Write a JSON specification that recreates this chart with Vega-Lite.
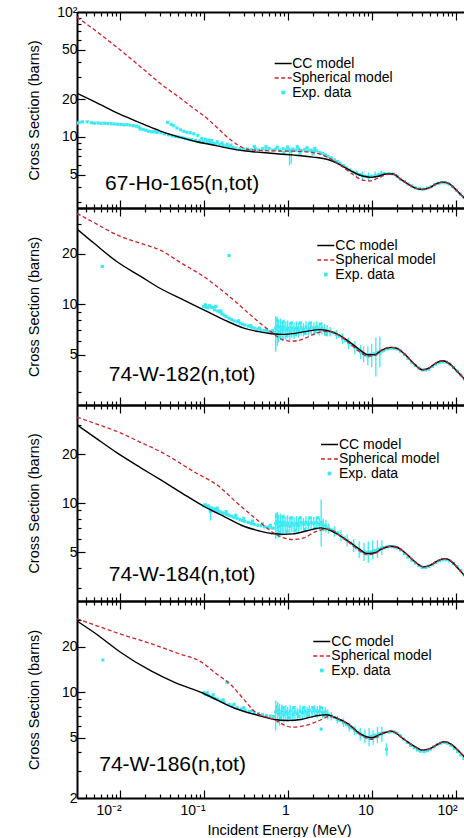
{
"$schema": "https://vega.github.io/schema/vega-lite/v6.json",
"padding": {"left": 26, "top": 5, "right": 0, "bottom": 0},
"background": "white",
"config": {
  "font": "Liberation Sans",
  "view": {"stroke": null},
  "axis": {"domainColor": "black", "domainWidth": 2, "tickColor": "black", "tickWidth": 1.2, "labelFont": "Liberation Sans", "labelFontSize": 14, "labelColor": "black", "titleFont": "Liberation Sans", "titleFontSize": 14.5, "titleFontWeight": "normal", "titleColor": "black", "grid": false, "labelOverlap": false, "labelFlush": false},
  "legend": {"labelFont": "Liberation Sans", "labelFontSize": 14, "labelColor": "black"}
},
"datasets": {
"labels": [{"p":1,"t":"67-Ho-165(n,tot)"},{"p":2,"t":"74-W-182(n,tot)"},{"p":3,"t":"74-W-184(n,tot)"},{"p":4,"t":"74-W-186(n,tot)"}],
"curves": [
{"p":1,"m":"CC","E":0.0031,"s":22.4},{"p":1,"m":"CC","E":0.005,"s":19.2},{"p":1,"m":"CC","E":0.01,"s":15.2},{"p":1,"m":"CC","E":0.02,"s":12.5},{"p":1,"m":"CC","E":0.03,"s":11.2},{"p":1,"m":"CC","E":0.05,"s":10.0},{"p":1,"m":"CC","E":0.08,"s":9.2},{"p":1,"m":"CC","E":0.12,"s":8.7},{"p":1,"m":"CC","E":0.2,"s":8.1},{"p":1,"m":"CC","E":0.3,"s":7.75},{"p":1,"m":"CC","E":0.5,"s":7.5},{"p":1,"m":"CC","E":0.8,"s":7.3},{"p":1,"m":"CC","E":1.2,"s":7.15},{"p":1,"m":"CC","E":2,"s":6.9},{"p":1,"m":"CC","E":3,"s":6.6},{"p":1,"m":"CC","E":4,"s":6.1},{"p":1,"m":"CC","E":5,"s":5.6},{"p":1,"m":"CC","E":6.5,"s":5.1},{"p":1,"m":"CC","E":8,"s":4.85},{"p":1,"m":"CC","E":10,"s":4.75},{"p":1,"m":"CC","E":12,"s":4.85},{"p":1,"m":"CC","E":15,"s":5.05},{"p":1,"m":"CC","E":18,"s":5.05},{"p":1,"m":"CC","E":22,"s":4.6},{"p":1,"m":"CC","E":27,"s":4.2},{"p":1,"m":"CC","E":33,"s":3.9},{"p":1,"m":"CC","E":40,"s":3.8},{"p":1,"m":"CC","E":50,"s":3.95},{"p":1,"m":"CC","E":60,"s":4.25},{"p":1,"m":"CC","E":72,"s":4.35},{"p":1,"m":"CC","E":85,"s":4.2},{"p":1,"m":"CC","E":100,"s":3.8},{"p":1,"m":"CC","E":115,"s":3.45},{"p":1,"m":"CC","E":130,"s":3.2},{"p":1,"m":"CC","E":160,"s":2.8},{"p":1,"m":"CC","E":200,"s":2.5},
{"p":1,"m":"SP","E":0.0031,"s":91},{"p":1,"m":"SP","E":0.005,"s":72},{"p":1,"m":"SP","E":0.01,"s":50},{"p":1,"m":"SP","E":0.02,"s":34},{"p":1,"m":"SP","E":0.03,"s":27},{"p":1,"m":"SP","E":0.055,"s":20},{"p":1,"m":"SP","E":0.08,"s":16.5},{"p":1,"m":"SP","E":0.1,"s":14.8},{"p":1,"m":"SP","E":0.15,"s":11.6},{"p":1,"m":"SP","E":0.2,"s":9.7},{"p":1,"m":"SP","E":0.25,"s":8.7},{"p":1,"m":"SP","E":0.3,"s":8.15},{"p":1,"m":"SP","E":0.4,"s":7.85},{"p":1,"m":"SP","E":0.6,"s":7.75},{"p":1,"m":"SP","E":1,"s":7.7},{"p":1,"m":"SP","E":1.5,"s":7.65},{"p":1,"m":"SP","E":2.4,"s":7.3},{"p":1,"m":"SP","E":3.2,"s":6.7},{"p":1,"m":"SP","E":4.6,"s":5.7},{"p":1,"m":"SP","E":6,"s":5.0},{"p":1,"m":"SP","E":7.5,"s":4.55},{"p":1,"m":"SP","E":9.5,"s":4.45},{"p":1,"m":"SP","E":12,"s":4.7},{"p":1,"m":"SP","E":15,"s":5.0},{"p":1,"m":"SP","E":18,"s":5.05},{"p":1,"m":"SP","E":22,"s":4.6},{"p":1,"m":"SP","E":27,"s":4.2},{"p":1,"m":"SP","E":33,"s":3.9},{"p":1,"m":"SP","E":40,"s":3.8},{"p":1,"m":"SP","E":50,"s":3.95},{"p":1,"m":"SP","E":60,"s":4.25},{"p":1,"m":"SP","E":72,"s":4.35},{"p":1,"m":"SP","E":85,"s":4.2},{"p":1,"m":"SP","E":100,"s":3.8},{"p":1,"m":"SP","E":115,"s":3.45},{"p":1,"m":"SP","E":130,"s":3.2},{"p":1,"m":"SP","E":160,"s":2.8},{"p":1,"m":"SP","E":200,"s":2.5},
{"p":2,"m":"CC","E":0.0031,"s":28.1},{"p":2,"m":"CC","E":0.005,"s":23.0},{"p":2,"m":"CC","E":0.0093,"s":17.9},{"p":2,"m":"CC","E":0.018,"s":14.6},{"p":2,"m":"CC","E":0.0305,"s":12.4},{"p":2,"m":"CC","E":0.055,"s":10.7},{"p":2,"m":"CC","E":0.1,"s":9.25},{"p":2,"m":"CC","E":0.18,"s":8.0},{"p":2,"m":"CC","E":0.3,"s":7.2},{"p":2,"m":"CC","E":0.45,"s":6.85},{"p":2,"m":"CC","E":0.64,"s":6.66},{"p":2,"m":"CC","E":0.9,"s":6.6},{"p":2,"m":"CC","E":1.18,"s":6.68},{"p":2,"m":"CC","E":1.6,"s":6.85},{"p":2,"m":"CC","E":2.4,"s":7.05},{"p":2,"m":"CC","E":3.3,"s":6.85},{"p":2,"m":"CC","E":4.2,"s":6.5},{"p":2,"m":"CC","E":5.2,"s":6.05},{"p":2,"m":"CC","E":7,"s":5.4},{"p":2,"m":"CC","E":9,"s":4.99},{"p":2,"m":"CC","E":11,"s":5.0},{"p":2,"m":"CC","E":13,"s":5.3},{"p":2,"m":"CC","E":17,"s":5.52},{"p":2,"m":"CC","E":20,"s":5.45},{"p":2,"m":"CC","E":25,"s":5.0},{"p":2,"m":"CC","E":32,"s":4.4},{"p":2,"m":"CC","E":40,"s":4.06},{"p":2,"m":"CC","E":48,"s":4.15},{"p":2,"m":"CC","E":58,"s":4.45},{"p":2,"m":"CC","E":70,"s":4.59},{"p":2,"m":"CC","E":85,"s":4.4},{"p":2,"m":"CC","E":105,"s":3.95},{"p":2,"m":"CC","E":126,"s":3.58},{"p":2,"m":"CC","E":160,"s":3.1},{"p":2,"m":"CC","E":200,"s":2.75},
{"p":2,"m":"SP","E":0.0031,"s":34.8},{"p":2,"m":"SP","E":0.005,"s":30.6},{"p":2,"m":"SP","E":0.0093,"s":25.9},{"p":2,"m":"SP","E":0.018,"s":23.0},{"p":2,"m":"SP","E":0.0305,"s":21.0},{"p":2,"m":"SP","E":0.055,"s":17.5},{"p":2,"m":"SP","E":0.1,"s":14.6},{"p":2,"m":"SP","E":0.19,"s":11.4},{"p":2,"m":"SP","E":0.36,"s":8.63},{"p":2,"m":"SP","E":0.5,"s":7.5},{"p":2,"m":"SP","E":0.64,"s":6.81},{"p":2,"m":"SP","E":0.87,"s":6.14},{"p":2,"m":"SP","E":1.05,"s":6.02},{"p":2,"m":"SP","E":1.3,"s":6.05},{"p":2,"m":"SP","E":1.6,"s":6.25},{"p":2,"m":"SP","E":2.07,"s":6.63},{"p":2,"m":"SP","E":2.6,"s":6.85},{"p":2,"m":"SP","E":3.1,"s":6.85},{"p":2,"m":"SP","E":4.2,"s":6.45},{"p":2,"m":"SP","E":5.2,"s":5.95},{"p":2,"m":"SP","E":7,"s":5.25},{"p":2,"m":"SP","E":9,"s":4.9},{"p":2,"m":"SP","E":11,"s":4.95},{"p":2,"m":"SP","E":13,"s":5.3},{"p":2,"m":"SP","E":17,"s":5.52},{"p":2,"m":"SP","E":20,"s":5.45},{"p":2,"m":"SP","E":25,"s":5.0},{"p":2,"m":"SP","E":32,"s":4.4},{"p":2,"m":"SP","E":40,"s":4.06},{"p":2,"m":"SP","E":48,"s":4.15},{"p":2,"m":"SP","E":58,"s":4.45},{"p":2,"m":"SP","E":70,"s":4.59},{"p":2,"m":"SP","E":85,"s":4.4},{"p":2,"m":"SP","E":105,"s":3.95},{"p":2,"m":"SP","E":126,"s":3.58},{"p":2,"m":"SP","E":160,"s":3.1},{"p":2,"m":"SP","E":200,"s":2.75},
{"p":3,"m":"CC","E":0.0031,"s":30.2},{"p":3,"m":"CC","E":0.005,"s":25.4},{"p":3,"m":"CC","E":0.0093,"s":20.3},{"p":3,"m":"CC","E":0.018,"s":16.4},{"p":3,"m":"CC","E":0.0305,"s":13.9},{"p":3,"m":"CC","E":0.055,"s":11.5},{"p":3,"m":"CC","E":0.1,"s":9.55},{"p":3,"m":"CC","E":0.18,"s":8.2},{"p":3,"m":"CC","E":0.3,"s":7.2},{"p":3,"m":"CC","E":0.45,"s":6.75},{"p":3,"m":"CC","E":0.64,"s":6.49},{"p":3,"m":"CC","E":0.9,"s":6.42},{"p":3,"m":"CC","E":1.15,"s":6.46},{"p":3,"m":"CC","E":1.7,"s":6.75},{"p":3,"m":"CC","E":2.45,"s":7.03},{"p":3,"m":"CC","E":3.2,"s":6.79},{"p":3,"m":"CC","E":4.3,"s":6.25},{"p":3,"m":"CC","E":5.6,"s":5.69},{"p":3,"m":"CC","E":7,"s":5.25},{"p":3,"m":"CC","E":8.8,"s":4.89},{"p":3,"m":"CC","E":11,"s":4.95},{"p":3,"m":"CC","E":13,"s":5.2},{"p":3,"m":"CC","E":16.7,"s":5.42},{"p":3,"m":"CC","E":20,"s":5.35},{"p":3,"m":"CC","E":25,"s":4.95},{"p":3,"m":"CC","E":32,"s":4.4},{"p":3,"m":"CC","E":41.6,"s":4.05},{"p":3,"m":"CC","E":50,"s":4.15},{"p":3,"m":"CC","E":60,"s":4.4},{"p":3,"m":"CC","E":75,"s":4.55},{"p":3,"m":"CC","E":90,"s":4.35},{"p":3,"m":"CC","E":105,"s":4.0},{"p":3,"m":"CC","E":124,"s":3.63},{"p":3,"m":"CC","E":160,"s":3.15},{"p":3,"m":"CC","E":200,"s":2.8},
{"p":3,"m":"SP","E":0.0031,"s":33.7},{"p":3,"m":"SP","E":0.005,"s":30.9},{"p":3,"m":"SP","E":0.0093,"s":27.5},{"p":3,"m":"SP","E":0.018,"s":23.5},{"p":3,"m":"SP","E":0.0305,"s":20.7},{"p":3,"m":"SP","E":0.076,"s":15.6},{"p":3,"m":"SP","E":0.15,"s":12.7},{"p":3,"m":"SP","E":0.25,"s":10.0},{"p":3,"m":"SP","E":0.43,"s":7.9},{"p":3,"m":"SP","E":0.68,"s":6.55},{"p":3,"m":"SP","E":0.9,"s":6.1},{"p":3,"m":"SP","E":1.15,"s":5.96},{"p":3,"m":"SP","E":1.55,"s":6.1},{"p":3,"m":"SP","E":2.2,"s":6.7},{"p":3,"m":"SP","E":3.0,"s":6.92},{"p":3,"m":"SP","E":3.5,"s":6.75},{"p":3,"m":"SP","E":4.3,"s":6.2},{"p":3,"m":"SP","E":5.6,"s":5.62},{"p":3,"m":"SP","E":7,"s":5.15},{"p":3,"m":"SP","E":8.8,"s":4.8},{"p":3,"m":"SP","E":11,"s":4.9},{"p":3,"m":"SP","E":13,"s":5.2},{"p":3,"m":"SP","E":16.7,"s":5.42},{"p":3,"m":"SP","E":20,"s":5.35},{"p":3,"m":"SP","E":25,"s":4.95},{"p":3,"m":"SP","E":32,"s":4.4},{"p":3,"m":"SP","E":41.6,"s":4.05},{"p":3,"m":"SP","E":50,"s":4.15},{"p":3,"m":"SP","E":60,"s":4.4},{"p":3,"m":"SP","E":75,"s":4.55},{"p":3,"m":"SP","E":90,"s":4.35},{"p":3,"m":"SP","E":105,"s":4.0},{"p":3,"m":"SP","E":124,"s":3.63},{"p":3,"m":"SP","E":160,"s":3.15},{"p":3,"m":"SP","E":200,"s":2.8},
{"p":4,"m":"CC","E":0.0031,"s":29.5},{"p":4,"m":"CC","E":0.0052,"s":24.3},{"p":4,"m":"CC","E":0.01,"s":18.5},{"p":4,"m":"CC","E":0.0236,"s":13.8},{"p":4,"m":"CC","E":0.045,"s":11.6},{"p":4,"m":"CC","E":0.1,"s":9.8},{"p":4,"m":"CC","E":0.23,"s":7.86},{"p":4,"m":"CC","E":0.48,"s":6.94},{"p":4,"m":"CC","E":0.69,"s":6.6},{"p":4,"m":"CC","E":1.0,"s":6.5},{"p":4,"m":"CC","E":1.44,"s":6.6},{"p":4,"m":"CC","E":2.0,"s":6.9},{"p":4,"m":"CC","E":2.86,"s":7.1},{"p":4,"m":"CC","E":3.8,"s":6.75},{"p":4,"m":"CC","E":5.2,"s":6.2},{"p":4,"m":"CC","E":7.5,"s":5.26},{"p":4,"m":"CC","E":10,"s":5.0},{"p":4,"m":"CC","E":13,"s":5.3},{"p":4,"m":"CC","E":17,"s":5.53},{"p":4,"m":"CC","E":24.4,"s":4.87},{"p":4,"m":"CC","E":32,"s":4.4},{"p":4,"m":"CC","E":40.4,"s":4.14},{"p":4,"m":"CC","E":50,"s":4.25},{"p":4,"m":"CC","E":60,"s":4.5},{"p":4,"m":"CC","E":73,"s":4.71},{"p":4,"m":"CC","E":90,"s":4.5},{"p":4,"m":"CC","E":108,"s":4.1},{"p":4,"m":"CC","E":129,"s":3.7},{"p":4,"m":"CC","E":160,"s":3.25},{"p":4,"m":"CC","E":200,"s":2.9},
{"p":4,"m":"SP","E":0.0031,"s":30.5},{"p":4,"m":"SP","E":0.005,"s":27.8},{"p":4,"m":"SP","E":0.01,"s":24.3},{"p":4,"m":"SP","E":0.0236,"s":20.9},{"p":4,"m":"SP","E":0.05,"s":18.0},{"p":4,"m":"SP","E":0.092,"s":15.9},{"p":4,"m":"SP","E":0.14,"s":13.3},{"p":4,"m":"SP","E":0.21,"s":11.2},{"p":4,"m":"SP","E":0.3,"s":8.97},{"p":4,"m":"SP","E":0.4,"s":7.48},{"p":4,"m":"SP","E":0.69,"s":6.6},{"p":4,"m":"SP","E":1.1,"s":5.88},{"p":4,"m":"SP","E":1.6,"s":6.0},{"p":4,"m":"SP","E":2.27,"s":6.43},{"p":4,"m":"SP","E":3.3,"s":6.93},{"p":4,"m":"SP","E":3.8,"s":6.75},{"p":4,"m":"SP","E":5.2,"s":6.15},{"p":4,"m":"SP","E":7.5,"s":5.2},{"p":4,"m":"SP","E":10,"s":4.88},{"p":4,"m":"SP","E":13,"s":5.3},{"p":4,"m":"SP","E":17,"s":5.53},{"p":4,"m":"SP","E":24.4,"s":4.87},{"p":4,"m":"SP","E":32,"s":4.4},{"p":4,"m":"SP","E":40.4,"s":4.14},{"p":4,"m":"SP","E":50,"s":4.25},{"p":4,"m":"SP","E":60,"s":4.5},{"p":4,"m":"SP","E":73,"s":4.71},{"p":4,"m":"SP","E":90,"s":4.5},{"p":4,"m":"SP","E":108,"s":4.1},{"p":4,"m":"SP","E":129,"s":3.7},{"p":4,"m":"SP","E":160,"s":3.25},{"p":4,"m":"SP","E":200,"s":2.9}
],
"exp": [
{"p":1,"E":0.0031,"s":12.9},{"p":1,"E":0.0033,"s":13.1},{"p":1,"E":0.0036,"s":13.2},{"p":1,"E":0.0041,"s":13.2},{"p":1,"E":0.0046,"s":13.0},{"p":1,"E":0.005,"s":12.9},{"p":1,"E":0.0055,"s":12.95},{"p":1,"E":0.006,"s":12.85},{"p":1,"E":0.0066,"s":12.9},{"p":1,"E":0.0072,"s":12.8},{"p":1,"E":0.0079,"s":12.75},
{"p":1,"E":0.0086,"s":12.7},{"p":1,"E":0.0094,"s":12.65},{"p":1,"E":0.0103,"s":12.6},{"p":1,"E":0.0112,"s":12.5},{"p":1,"E":0.0122,"s":12.55},{"p":1,"E":0.0133,"s":12.45},{"p":1,"E":0.0145,"s":12.3},{"p":1,"E":0.0158,"s":12.2},{"p":1,"E":0.017,"s":12.0},
{"p":1,"E":0.0175,"s":11.6},{"p":1,"E":0.019,"s":11.5},{"p":1,"E":0.0205,"s":11.3},{"p":1,"E":0.022,"s":11.1},{"p":1,"E":0.024,"s":11.0},{"p":1,"E":0.026,"s":11.0},{"p":1,"E":0.028,"s":10.9},
{"p":1,"E":0.037,"s":13.1},{"p":1,"E":0.041,"s":12.6},{"p":1,"E":0.044,"s":12.3},{"p":1,"E":0.048,"s":11.8},{"p":1,"E":0.053,"s":11.4},{"p":1,"E":0.058,"s":11.1},{"p":1,"E":0.063,"s":10.9},{"p":1,"E":0.069,"s":10.8},{"p":1,"E":0.076,"s":10.6},{"p":1,"E":0.085,"s":10.3},
{"p":1,"E":0.031,"s":10.8},{"p":1,"E":0.034,"s":10.6},{"p":1,"E":0.038,"s":10.4},{"p":1,"E":0.042,"s":10.2},{"p":1,"E":0.046,"s":10.1},{"p":1,"E":0.05,"s":10.0},{"p":1,"E":0.055,"s":9.9},{"p":1,"E":0.06,"s":9.75},{"p":1,"E":0.066,"s":9.6},{"p":1,"E":0.072,"s":9.5},{"p":1,"E":0.08,"s":9.4},{"p":1,"E":0.09,"s":9.3},{"p":1,"E":0.1,"s":9.2},{"p":1,"E":0.11,"s":9.1},{"p":1,"E":0.12,"s":9.05},{"p":1,"E":0.13,"s":8.9},{"p":1,"E":0.14,"s":8.85},{"p":1,"E":0.155,"s":8.7},{"p":1,"E":0.17,"s":8.6},{"p":1,"E":0.185,"s":8.45},{"p":1,"E":0.2,"s":8.35},{"p":1,"E":0.22,"s":8.25},{"p":1,"E":0.24,"s":8.15},{"p":1,"E":0.27,"s":8.05},{"p":1,"E":0.3,"s":7.95},
{"p":1,"E":0.095,"s":9.7},{"p":1,"E":0.105,"s":9.6},{"p":1,"E":0.115,"s":9.45},{"p":1,"E":0.125,"s":9.35},{"p":1,"E":0.145,"s":9.15},{"p":1,"E":0.165,"s":8.95},{"p":1,"E":0.19,"s":8.75},{"p":1,"E":0.21,"s":8.6},
{"p":1,"E":0.33,"s":8.0},{"p":1,"E":0.37,"s":7.9},{"p":1,"E":0.41,"s":8.1},{"p":1,"E":0.45,"s":7.85},{"p":1,"E":0.5,"s":8.05},{"p":1,"E":0.55,"s":7.9},{"p":1,"E":0.6,"s":8.1},{"p":1,"E":0.66,"s":7.85},{"p":1,"E":0.72,"s":8.0},{"p":1,"E":0.8,"s":7.85},{"p":1,"E":0.88,"s":8.05},{"p":1,"E":0.96,"s":7.9},{"p":1,"E":1.05,"s":7.8,"lo":5.9,"hi":8.2},{"p":1,"E":1.1,"s":7.7,"lo":6.1,"hi":8.1},{"p":1,"E":1.15,"s":8.0},{"p":1,"E":1.25,"s":7.85},{"p":1,"E":1.35,"s":8.0},{"p":1,"E":1.45,"s":7.8},{"p":1,"E":1.6,"s":7.95},{"p":1,"E":1.75,"s":7.75},{"p":1,"E":1.9,"s":7.85},{"p":1,"E":2.05,"s":7.65},{"p":1,"E":2.2,"s":7.75},{"p":1,"E":2.4,"s":7.5},{"p":1,"E":2.6,"s":7.4},{"p":1,"E":2.8,"s":7.2},{"p":1,"E":3.0,"s":7.0},
{"p":1,"E":0.4,"s":8.4},{"p":1,"E":0.55,"s":8.35},{"p":1,"E":0.75,"s":8.3},{"p":1,"E":1.0,"s":8.3},{"p":1,"E":1.3,"s":8.35},{"p":1,"E":1.7,"s":8.2},{"p":1,"E":2.1,"s":8.1},{"p":1,"E":0.9,"s":7.5},{"p":1,"E":1.4,"s":7.4},{"p":1,"E":2.0,"s":7.3},
{"p":1,"E":3.3,"s":6.8},{"p":1,"E":3.6,"s":6.55},{"p":1,"E":3.9,"s":6.35},{"p":1,"E":4.2,"s":6.15},{"p":1,"E":4.6,"s":5.9},{"p":1,"E":5.0,"s":5.65},{"p":1,"E":5.5,"s":5.45},{"p":1,"E":6.0,"s":5.25},{"p":1,"E":6.6,"s":5.1,"lo":4.8,"hi":5.4},{"p":1,"E":7.2,"s":5.0},{"p":1,"E":7.8,"s":4.9,"lo":4.5,"hi":5.3},{"p":1,"E":8.5,"s":4.85},{"p":1,"E":9.2,"s":4.8,"lo":4.4,"hi":5.2},{"p":1,"E":10,"s":4.85},{"p":1,"E":11,"s":4.9,"lo":4.5,"hi":5.3},{"p":1,"E":12,"s":5.0},{"p":1,"E":13,"s":5.05,"lo":4.7,"hi":5.4},{"p":1,"E":14,"s":5.1},
{"p":1,"E":16,"s":5.1},{"p":1,"E":18,"s":5.05},{"p":1,"E":20,"s":4.85},{"p":1,"E":22,"s":4.6},{"p":1,"E":24.5,"s":4.4},{"p":1,"E":27,"s":4.2},{"p":1,"E":30,"s":4.05},{"p":1,"E":33,"s":3.92},{"p":1,"E":37,"s":3.85},{"p":1,"E":41,"s":3.82},{"p":1,"E":46,"s":3.9},{"p":1,"E":51,"s":4.0},{"p":1,"E":56,"s":4.15},{"p":1,"E":62,"s":4.25},{"p":1,"E":68,"s":4.3},{"p":1,"E":75,"s":4.3},{"p":1,"E":83,"s":4.2},{"p":1,"E":92,"s":4.0},{"p":1,"E":102,"s":3.75},{"p":1,"E":113,"s":3.5},{"p":1,"E":125,"s":3.3},{"p":1,"E":140,"s":3.05},{"p":1,"E":155,"s":2.85},

{"p":2,"E":0.0062,"s":16.8},{"p":2,"E":0.2,"s":19.5},
{"p":2,"E":0.1,"s":9.7},{"p":2,"E":0.105,"s":9.9},{"p":2,"E":0.107,"s":9.6},{"p":2,"E":0.112,"s":9.5},{"p":2,"E":0.118,"s":9.8},{"p":2,"E":0.124,"s":9.55},{"p":2,"E":0.13,"s":9.6},{"p":2,"E":0.135,"s":9.25},{"p":2,"E":0.14,"s":9.7},{"p":2,"E":0.147,"s":9.1},{"p":2,"E":0.155,"s":9.0},{"p":2,"E":0.16,"s":9.1},{"p":2,"E":0.165,"s":8.75},{"p":2,"E":0.175,"s":8.6},{"p":2,"E":0.185,"s":8.45},{"p":2,"E":0.2,"s":8.25},{"p":2,"E":0.215,"s":8.1},{"p":2,"E":0.23,"s":7.95},{"p":2,"E":0.25,"s":7.85},{"p":2,"E":0.27,"s":7.7},{"p":2,"E":0.29,"s":7.6},{"p":2,"E":0.31,"s":7.5},{"p":2,"E":0.34,"s":7.4},{"p":2,"E":0.37,"s":7.3},{"p":2,"E":0.4,"s":7.2},{"p":2,"E":0.44,"s":7.1},{"p":2,"E":0.48,"s":7.0},{"p":2,"E":0.53,"s":6.95},{"p":2,"E":0.58,"s":6.88},{"p":2,"E":0.63,"s":6.82},{"p":2,"E":0.68,"s":6.78},
{"p":2,"E":0.26,"s":7.95},{"p":2,"E":0.36,"s":7.45},{"p":2,"E":0.46,"s":7.2},{"p":2,"E":0.56,"s":7.05},{"p":2,"E":0.66,"s":6.95},
{"p":2,"E":0.72,"s":7.2,"lo":5.2,"hi":8.5},{"p":2,"E":0.75,"s":7.4,"lo":5.6,"hi":8.4},{"p":2,"E":0.78,"s":6.9,"lo":5.9,"hi":8.1},{"p":2,"E":0.82,"s":7.3,"lo":6.1,"hi":8.2},{"p":2,"E":0.86,"s":7.0,"lo":6.0,"hi":8.0},{"p":2,"E":0.9,"s":7.3,"lo":6.2,"hi":8.1},{"p":2,"E":0.95,"s":7.0,"lo":6.1,"hi":7.9},{"p":2,"E":1.0,"s":7.2,"lo":6.3,"hi":8.0},{"p":2,"E":1.06,"s":6.9,"lo":6.1,"hi":7.8},{"p":2,"E":1.12,"s":7.2,"lo":6.3,"hi":7.9},{"p":2,"E":1.19,"s":7.0,"lo":6.2,"hi":7.8},{"p":2,"E":1.27,"s":7.2,"lo":6.4,"hi":7.9},{"p":2,"E":1.35,"s":7.0,"lo":6.3,"hi":7.7},{"p":2,"E":1.44,"s":7.25,"lo":6.5,"hi":7.9},{"p":2,"E":1.54,"s":7.05,"lo":6.4,"hi":7.7},{"p":2,"E":1.65,"s":7.3,"lo":6.6,"hi":7.9},{"p":2,"E":1.77,"s":7.1,"lo":6.5,"hi":7.7},{"p":2,"E":1.9,"s":7.3,"lo":6.6,"hi":7.9},{"p":2,"E":2.05,"s":7.15,"lo":6.5,"hi":7.8},{"p":2,"E":2.2,"s":7.3,"lo":6.7,"hi":7.9},{"p":2,"E":2.37,"s":7.1,"lo":6.5,"hi":7.7},{"p":2,"E":2.55,"s":7.2,"lo":6.6,"hi":7.8},{"p":2,"E":2.75,"s":7.0,"lo":6.5,"hi":7.6},{"p":2,"E":2.95,"s":6.95,"lo":6.4,"hi":7.5},
{"p":2,"E":0.74,"s":8.0},{"p":2,"E":0.8,"s":6.4},{"p":2,"E":0.88,"s":7.8},{"p":2,"E":0.98,"s":6.5},{"p":2,"E":1.1,"s":7.7},{"p":2,"E":1.23,"s":6.6},{"p":2,"E":1.4,"s":7.7},{"p":2,"E":1.6,"s":6.7},{"p":2,"E":1.83,"s":7.7},{"p":2,"E":2.12,"s":6.8},{"p":2,"E":2.45,"s":7.6},{"p":2,"E":2.85,"s":6.6},
{"p":2,"E":3.2,"s":6.85,"lo":6.4,"hi":7.3},{"p":2,"E":3.5,"s":6.75},{"p":2,"E":3.8,"s":6.6,"lo":6.2,"hi":7.0},{"p":2,"E":4.1,"s":6.45},{"p":2,"E":4.5,"s":6.25,"lo":5.8,"hi":6.7},{"p":2,"E":4.9,"s":6.05},{"p":2,"E":5.3,"s":5.9,"lo":5.4,"hi":6.3},{"p":2,"E":5.8,"s":5.7},{"p":2,"E":6.3,"s":5.55,"lo":5.0,"hi":6.0},{"p":2,"E":6.8,"s":5.35},{"p":2,"E":7.4,"s":5.2,"lo":4.7,"hi":5.7},
{"p":2,"E":8,"s":5.05,"lo":4.5,"hi":5.6},{"p":2,"E":8.5,"s":4.95},{"p":2,"E":9,"s":4.9,"lo":4.3,"hi":5.6},{"p":2,"E":9.5,"s":5.0},{"p":2,"E":10,"s":4.95,"lo":4.2,"hi":5.8},{"p":2,"E":10.6,"s":5.05},{"p":2,"E":11.2,"s":5.0,"lo":3.7,"hi":6.3},{"p":2,"E":11.8,"s":5.15},{"p":2,"E":12.5,"s":5.1,"lo":4.2,"hi":6.4},{"p":2,"E":13.2,"s":5.25},
{"p":2,"E":14,"s":5.3},{"p":2,"E":15.5,"s":5.4},{"p":2,"E":17,"s":5.45},{"p":2,"E":18.5,"s":5.45},{"p":2,"E":20,"s":5.4},{"p":2,"E":22,"s":5.25},{"p":2,"E":24.5,"s":5.0},{"p":2,"E":27,"s":4.75},{"p":2,"E":30,"s":4.5},{"p":2,"E":33,"s":4.3},{"p":2,"E":36.5,"s":4.15},{"p":2,"E":40,"s":4.05},{"p":2,"E":44,"s":4.05},{"p":2,"E":48,"s":4.1},{"p":2,"E":53,"s":4.25},{"p":2,"E":58,"s":4.38},{"p":2,"E":64,"s":4.48},{"p":2,"E":70,"s":4.52},{"p":2,"E":77,"s":4.5},{"p":2,"E":85,"s":4.38},{"p":2,"E":94,"s":4.18},{"p":2,"E":104,"s":3.98},{"p":2,"E":115,"s":3.78},{"p":2,"E":127,"s":3.55},{"p":2,"E":140,"s":3.35},{"p":2,"E":155,"s":3.15},

{"p":3,"E":0.1,"s":9.6},{"p":3,"E":0.104,"s":9.75},{"p":3,"E":0.108,"s":9.5},{"p":3,"E":0.113,"s":9.6},{"p":3,"E":0.118,"s":9.35},{"p":3,"E":0.12,"s":8.9,"lo":7.8,"hi":9.5},{"p":3,"E":0.124,"s":9.3},{"p":3,"E":0.13,"s":9.15},{"p":3,"E":0.136,"s":9.2},{"p":3,"E":0.142,"s":9.0},{"p":3,"E":0.15,"s":8.9},{"p":3,"E":0.158,"s":8.8},{"p":3,"E":0.167,"s":8.7},{"p":3,"E":0.177,"s":8.6},{"p":3,"E":0.19,"s":8.5},{"p":3,"E":0.2,"s":8.4},{"p":3,"E":0.215,"s":8.3},{"p":3,"E":0.23,"s":8.15},{"p":3,"E":0.25,"s":8.05},{"p":3,"E":0.27,"s":7.9},{"p":3,"E":0.29,"s":7.8},{"p":3,"E":0.31,"s":7.7},{"p":3,"E":0.34,"s":7.6},{"p":3,"E":0.37,"s":7.5},{"p":3,"E":0.4,"s":7.4},{"p":3,"E":0.44,"s":7.3},{"p":3,"E":0.48,"s":7.25},{"p":3,"E":0.53,"s":7.15},{"p":3,"E":0.58,"s":7.1},{"p":3,"E":0.63,"s":7.05},{"p":3,"E":0.68,"s":7.0},
{"p":3,"E":0.145,"s":9.3},{"p":3,"E":0.185,"s":8.85},{"p":3,"E":0.24,"s":8.4},{"p":3,"E":0.3,"s":8.05},{"p":3,"E":0.38,"s":7.75},{"p":3,"E":0.5,"s":7.45},{"p":3,"E":0.62,"s":7.3},
{"p":3,"E":0.72,"s":7.5,"lo":6.0,"hi":8.7},{"p":3,"E":0.75,"s":7.7,"lo":6.2,"hi":8.8},{"p":3,"E":0.78,"s":7.2,"lo":6.1,"hi":8.5},{"p":3,"E":0.82,"s":7.6,"lo":6.3,"hi":8.6},{"p":3,"E":0.86,"s":7.3,"lo":6.3,"hi":8.4},{"p":3,"E":0.9,"s":7.6,"lo":6.4,"hi":8.5},{"p":3,"E":0.95,"s":7.3,"lo":6.4,"hi":8.3},{"p":3,"E":1.0,"s":7.5,"lo":6.5,"hi":8.4},{"p":3,"E":1.06,"s":7.2,"lo":6.4,"hi":8.2},{"p":3,"E":1.12,"s":7.5,"lo":6.6,"hi":8.3},{"p":3,"E":1.19,"s":7.3,"lo":6.5,"hi":8.2},{"p":3,"E":1.27,"s":7.5,"lo":6.7,"hi":8.3},{"p":3,"E":1.35,"s":7.3,"lo":6.6,"hi":8.1},{"p":3,"E":1.44,"s":7.6,"lo":6.8,"hi":8.3},{"p":3,"E":1.54,"s":7.4,"lo":6.7,"hi":8.1},{"p":3,"E":1.65,"s":7.6,"lo":6.9,"hi":8.3},{"p":3,"E":1.77,"s":7.4,"lo":6.8,"hi":8.1},{"p":3,"E":1.9,"s":7.6,"lo":6.9,"hi":8.3},{"p":3,"E":2.05,"s":7.45,"lo":6.8,"hi":8.2},{"p":3,"E":2.2,"s":7.6,"lo":6.9,"hi":8.3},{"p":3,"E":2.37,"s":7.4,"lo":6.8,"hi":8.1},{"p":3,"E":2.5,"s":7.6,"lo":5.4,"hi":10.5},{"p":3,"E":2.65,"s":7.3,"lo":6.7,"hi":8.0},{"p":3,"E":2.85,"s":7.2,"lo":6.6,"hi":7.9},
{"p":3,"E":0.74,"s":8.3},{"p":3,"E":0.8,"s":6.6},{"p":3,"E":0.88,"s":8.2},{"p":3,"E":0.98,"s":6.7},{"p":3,"E":1.1,"s":8.1},{"p":3,"E":1.23,"s":6.8},{"p":3,"E":1.4,"s":8.1},{"p":3,"E":1.6,"s":6.9},{"p":3,"E":1.83,"s":8.1},{"p":3,"E":2.12,"s":7.0},{"p":3,"E":2.3,"s":8.1},{"p":3,"E":2.75,"s":6.9},
{"p":3,"E":3.05,"s":7.0,"lo":6.5,"hi":7.5},{"p":3,"E":3.3,"s":6.85},{"p":3,"E":3.6,"s":6.7,"lo":6.2,"hi":7.2},{"p":3,"E":3.9,"s":6.55},{"p":3,"E":4.3,"s":6.3,"lo":5.8,"hi":6.8},{"p":3,"E":4.7,"s":6.1},{"p":3,"E":5.1,"s":5.9,"lo":5.4,"hi":6.4},{"p":3,"E":5.6,"s":5.7},{"p":3,"E":6.1,"s":5.5,"lo":5.0,"hi":6.0},{"p":3,"E":6.6,"s":5.3},
{"p":3,"E":7.1,"s":5.15,"lo":4.6,"hi":5.8},{"p":3,"E":7.6,"s":5.05},{"p":3,"E":8.1,"s":5.0,"lo":4.4,"hi":5.7},{"p":3,"E":8.6,"s":4.95},{"p":3,"E":9.1,"s":4.95,"lo":4.3,"hi":5.8},{"p":3,"E":9.7,"s":5.0},{"p":3,"E":10.3,"s":5.05,"lo":4.5,"hi":5.9},{"p":3,"E":11,"s":5.1},{"p":3,"E":11.7,"s":5.15,"lo":4.6,"hi":5.9},{"p":3,"E":12.4,"s":5.2},{"p":3,"E":13.2,"s":5.3,"lo":4.8,"hi":5.9},
{"p":3,"E":14,"s":5.3},{"p":3,"E":15.5,"s":5.38},{"p":3,"E":17,"s":5.4},{"p":3,"E":18.5,"s":5.38},{"p":3,"E":20,"s":5.3},{"p":3,"E":22,"s":5.15},{"p":3,"E":24.5,"s":4.9},{"p":3,"E":27,"s":4.65},{"p":3,"E":30,"s":4.45},{"p":3,"E":33,"s":4.28},{"p":3,"E":36.5,"s":4.12},{"p":3,"E":40,"s":4.02},{"p":3,"E":44,"s":4.02},{"p":3,"E":48,"s":4.08},{"p":3,"E":53,"s":4.18},{"p":3,"E":58,"s":4.3},{"p":3,"E":64,"s":4.42},{"p":3,"E":70,"s":4.48},{"p":3,"E":77,"s":4.48},{"p":3,"E":85,"s":4.4},{"p":3,"E":94,"s":4.25},{"p":3,"E":104,"s":4.05},{"p":3,"E":115,"s":3.85},{"p":3,"E":127,"s":3.62},{"p":3,"E":140,"s":3.42},{"p":3,"E":155,"s":3.22},

{"p":4,"E":0.0063,"s":16.3},{"p":4,"E":0.19,"s":11.6},{"p":4,"E":2.5,"s":5.7},{"p":4,"E":15,"s":4.2,"lo":3.8,"hi":4.6},
{"p":4,"E":0.1,"s":9.9},{"p":4,"E":0.104,"s":9.7},{"p":4,"E":0.11,"s":9.9},{"p":4,"E":0.115,"s":9.5},{"p":4,"E":0.125,"s":9.3},{"p":4,"E":0.13,"s":9.6},{"p":4,"E":0.135,"s":9.1},{"p":4,"E":0.145,"s":9.0},{"p":4,"E":0.16,"s":8.75},{"p":4,"E":0.17,"s":8.9},{"p":4,"E":0.175,"s":8.55},{"p":4,"E":0.2,"s":8.3},{"p":4,"E":0.22,"s":8.1},{"p":4,"E":0.23,"s":8.3},{"p":4,"E":0.25,"s":7.9},{"p":4,"E":0.28,"s":7.75},{"p":4,"E":0.3,"s":7.9},{"p":4,"E":0.31,"s":7.6},{"p":4,"E":0.35,"s":7.45},{"p":4,"E":0.38,"s":7.55},{"p":4,"E":0.4,"s":7.3},{"p":4,"E":0.45,"s":7.2},{"p":4,"E":0.5,"s":7.1},{"p":4,"E":0.56,"s":7.0},{"p":4,"E":0.62,"s":6.95},{"p":4,"E":0.68,"s":6.9},
{"p":4,"E":0.72,"s":7.4,"lo":5.6,"hi":8.8},{"p":4,"E":0.76,"s":7.6,"lo":6.2,"hi":8.6},{"p":4,"E":0.8,"s":7.2,"lo":6.0,"hi":8.4},{"p":4,"E":0.85,"s":7.5,"lo":6.4,"hi":8.3},{"p":4,"E":0.9,"s":7.1,"lo":6.3,"hi":8.1},{"p":4,"E":0.95,"s":7.4,"lo":6.5,"hi":8.2},{"p":4,"E":1.0,"s":7.2,"lo":6.4,"hi":8.0},{"p":4,"E":1.07,"s":7.5,"lo":6.6,"hi":8.2},{"p":4,"E":1.15,"s":7.1,"lo":6.4,"hi":7.9},{"p":4,"E":1.22,"s":7.4,"lo":6.6,"hi":8.1},{"p":4,"E":1.3,"s":7.2,"lo":6.5,"hi":7.9},{"p":4,"E":1.4,"s":7.5,"lo":6.7,"hi":8.2},{"p":4,"E":1.5,"s":7.3,"lo":6.6,"hi":8.0},{"p":4,"E":1.6,"s":7.5,"lo":6.8,"hi":8.1},{"p":4,"E":1.7,"s":7.3,"lo":6.7,"hi":8.0},{"p":4,"E":1.8,"s":7.6,"lo":6.9,"hi":8.2},{"p":4,"E":1.95,"s":7.4,"lo":6.8,"hi":8.1},{"p":4,"E":2.1,"s":7.6,"lo":7.0,"hi":8.2},{"p":4,"E":2.25,"s":7.4,"lo":6.8,"hi":8.1},{"p":4,"E":2.4,"s":7.5,"lo":6.9,"hi":8.2},{"p":4,"E":2.6,"s":7.3,"lo":6.7,"hi":8.0},{"p":4,"E":2.8,"s":7.4,"lo":6.8,"hi":8.0},{"p":4,"E":3.0,"s":7.1,"lo":6.6,"hi":7.7},
{"p":4,"E":0.74,"s":8.0},{"p":4,"E":0.82,"s":6.8},{"p":4,"E":0.88,"s":7.9},{"p":4,"E":1.04,"s":6.8},{"p":4,"E":1.18,"s":7.9},{"p":4,"E":1.35,"s":6.9},{"p":4,"E":1.55,"s":7.9},{"p":4,"E":1.75,"s":7.0},{"p":4,"E":2.0,"s":7.9},{"p":4,"E":2.2,"s":7.0},{"p":4,"E":2.5,"s":7.9},{"p":4,"E":2.7,"s":7.0},
{"p":4,"E":3.3,"s":6.95,"lo":6.5,"hi":7.4},{"p":4,"E":3.6,"s":6.8},{"p":4,"E":3.9,"s":6.6,"lo":6.2,"hi":7.0},{"p":4,"E":4.2,"s":6.5},{"p":4,"E":4.6,"s":6.3,"lo":5.9,"hi":6.7},{"p":4,"E":5.0,"s":6.1},{"p":4,"E":5.4,"s":5.9,"lo":5.5,"hi":6.3},{"p":4,"E":5.8,"s":5.8},{"p":4,"E":6.3,"s":5.6,"lo":5.2,"hi":6.0},{"p":4,"E":6.8,"s":5.4},
{"p":4,"E":7.3,"s":5.3,"lo":4.8,"hi":5.8},{"p":4,"E":7.8,"s":5.2},{"p":4,"E":8.3,"s":5.1,"lo":4.6,"hi":5.7},{"p":4,"E":8.8,"s":5.0},{"p":4,"E":9.3,"s":5.0,"lo":4.4,"hi":5.8},{"p":4,"E":9.8,"s":5.1},{"p":4,"E":10.4,"s":5.0,"lo":4.5,"hi":5.6},{"p":4,"E":11,"s":5.2},{"p":4,"E":11.7,"s":5.1,"lo":4.6,"hi":5.9},{"p":4,"E":12.4,"s":5.3},{"p":4,"E":13.2,"s":5.3,"lo":4.7,"hi":5.9},{"p":4,"E":14,"s":5.4},
{"p":4,"E":16,"s":5.45},{"p":4,"E":17,"s":5.5},{"p":4,"E":18.5,"s":5.45},{"p":4,"E":20,"s":5.35},{"p":4,"E":22,"s":5.15},{"p":4,"E":24,"s":4.9},{"p":4,"E":26.5,"s":4.65},{"p":4,"E":29,"s":4.45},{"p":4,"E":32,"s":4.3},{"p":4,"E":35,"s":4.15},{"p":4,"E":38,"s":4.08},{"p":4,"E":42,"s":4.05},{"p":4,"E":46,"s":4.1},{"p":4,"E":50,"s":4.2},{"p":4,"E":55,"s":4.35},{"p":4,"E":60,"s":4.5},{"p":4,"E":66,"s":4.6},{"p":4,"E":73,"s":4.65},{"p":4,"E":80,"s":4.6},{"p":4,"E":88,"s":4.45},{"p":4,"E":96,"s":4.25},{"p":4,"E":105,"s":4.05},{"p":4,"E":115,"s":3.85},{"p":4,"E":125,"s":3.65},{"p":4,"E":137,"s":3.45},{"p":4,"E":150,"s":3.25}
]
},
"vconcat": [
{
 "width": 404, "height": 196,
 "resolve": {"axis": {"x": "independent", "y": "independent"}},
 "layer": [
  {"data": {"name": "exp"}, "transform": [{"filter": "datum.p == 1 && isValid(datum.lo)"}],
   "mark": {"type": "rule", "color": "#3ce8f2", "strokeWidth": 1.3, "clip": true},
   "encoding": {
    "x": {"field": "E", "type": "quantitative", "scale": {"type": "log", "domain": [0.0031, 200], "nice": false}, "axis": {"orient": "bottom", "values": [0.01,0.1,1,10,100], "tickSize": -8, "labels": false, "title": null}},
    "y": {"field": "lo", "type": "quantitative", "scale": {"type": "log", "domain": [2.7, 100], "nice": false}, "axis": {"orient": "left", "values": [5,10,20,50,100], "tickSize": -8, "labelPadding": 8, "labelExpr": "datum.value == 100 ? '10²' : format(datum.value, 'd')", "title": "Cross Section (barns)", "titleX": -42.5, "titleBaseline": "middle"}},
    "y2": {"field": "hi"}
   }},
  {"data": {"name": "exp"}, "transform": [{"filter": "datum.p == 1"}],
   "mark": {"type": "square", "size": 10, "opacity": 1, "clip": true},
   "encoding": {
    "x": {"field": "E", "type": "quantitative", "scale": {"type": "log", "domain": [0.0031, 200], "nice": false}, "axis": {"orient": "bottom", "values": [0.004,0.005,0.006,0.007,0.008,0.009,0.02,0.03,0.04,0.05,0.06,0.07,0.08,0.09,0.2,0.3,0.4,0.5,0.6,0.7,0.8,0.9,2,3,4,5,6,7,8,9,20,30,40,50,60,70,80,90], "tickSize": -4, "labels": false, "domain": false, "title": null}},
    "y": {"field": "s", "type": "quantitative", "scale": {"type": "log", "domain": [2.7, 100], "nice": false}, "axis": {"orient": "left", "values": [3,4,6,7,8,9,30,40,60,70,80,90], "tickSize": -4, "labels": false, "domain": false, "title": null}},
    "color": {"datum": "Exp. data", "type": "nominal", "scale": {"domain": ["CC model","Spherical model","Exp. data"], "range": ["#000000","#c8242a","#3ce8f2"]}}
   }},
  {"data": {"name": "curves"}, "transform": [{"filter": "datum.p == 1 && datum.m == 'CC'"}],
   "mark": {"type": "line", "strokeWidth": 1.4, "interpolate": "monotone", "clip": true},
   "encoding": {
    "x": {"field": "E", "type": "quantitative", "scale": {"type": "log", "domain": [0.0031, 200], "nice": false}, "axis": {"orient": "top", "values": [0.01,0.1,1,10,100], "tickSize": -8, "labels": false, "title": null}},
    "y": {"field": "s", "type": "quantitative", "scale": {"type": "log", "domain": [2.7, 100], "nice": false}, "axis": null},
    "color": {"datum": "CC model", "type": "nominal", "scale": {"domain": ["CC model","Spherical model","Exp. data"], "range": ["#000000","#c8242a","#3ce8f2"]},
      "legend": {"orient": "none", "legendX": 199.2, "legendY": 44.5, "title": null, "symbolSize": 196, "labelOffset": 2, "rowPadding": 0.5, "padding": 0,
        "encode": {"symbols": {"update": {
          "shape": {"signal": "datum.value === 'Exp. data' ? 'square' : 'stroke'"},
          "size": {"signal": "datum.value === 'Exp. data' ? 14 : 289"},
          "strokeDash": {"signal": "datum.value === 'Spherical model' ? [4, 2.5] : [1, 0]"},
          "strokeWidth": {"signal": "datum.value === 'Exp. data' ? 0 : 1.5"},
          "fill": {"signal": "datum.value === 'Exp. data' ? '#3ce8f2' : 'transparent'"},
          "stroke": {"signal": "datum.value === 'CC model' ? '#000000' : datum.value === 'Spherical model' ? '#c8242a' : '#3ce8f2'"},
          "opacity": {"value": 1}}}}}}
   }},
  {"data": {"name": "curves"}, "transform": [{"filter": "datum.p == 1 && datum.m == 'SP'"}],
   "mark": {"type": "line", "strokeWidth": 1.3, "strokeDash": [4, 2.5], "interpolate": "monotone", "clip": true},
   "encoding": {
    "x": {"field": "E", "type": "quantitative", "scale": {"type": "log", "domain": [0.0031, 200], "nice": false}, "axis": {"orient": "top", "values": [0.004,0.005,0.006,0.007,0.008,0.009,0.02,0.03,0.04,0.05,0.06,0.07,0.08,0.09,0.2,0.3,0.4,0.5,0.6,0.7,0.8,0.9,2,3,4,5,6,7,8,9,20,30,40,50,60,70,80,90], "tickSize": -4, "labels": false, "domain": false, "title": null}},
    "y": {"field": "s", "type": "quantitative", "scale": {"type": "log", "domain": [2.7, 100], "nice": false}, "axis": null},
    "color": {"datum": "Spherical model", "type": "nominal", "scale": {"domain": ["CC model","Spherical model","Exp. data"], "range": ["#000000","#c8242a","#3ce8f2"]}}
   }},
  {"data": {"name": "labels"}, "transform": [{"filter": "datum.p == 1"}],
   "mark": {"type": "text", "align": "left", "baseline": "middle", "fontSize": 21, "color": "black"},
   "encoding": {
    "text": {"field": "t"},
    "x": {"datum": 0.0067, "type": "quantitative", "scale": {"type": "log", "domain": [0.0031, 200], "nice": false}, "axis": null},
    "y": {"datum": 4.2, "type": "quantitative", "scale": {"type": "log", "domain": [2.7, 100], "nice": false}, "axis": null}
   }}
 ]
},
{
 "width": 404, "height": 197,
 "resolve": {"axis": {"x": "independent", "y": "independent"}},
 "layer": [
  {"data": {"name": "exp"}, "transform": [{"filter": "datum.p == 2 && isValid(datum.lo)"}],
   "mark": {"type": "rule", "color": "#3ce8f2", "strokeWidth": 1.3, "clip": true},
   "encoding": {
    "x": {"field": "E", "type": "quantitative", "scale": {"type": "log", "domain": [0.0031, 200], "nice": false}, "axis": {"orient": "bottom", "values": [0.01,0.1,1,10,100], "tickSize": -8, "labels": false, "title": null}},
    "y": {"field": "lo", "type": "quantitative", "scale": {"type": "log", "domain": [2.5, 37.5], "nice": false}, "axis": {"orient": "left", "values": [5,10,20], "tickSize": -8, "labelPadding": 8, "labelExpr": "format(datum.value, 'd')", "title": "Cross Section (barns)", "titleX": -42.5, "titleBaseline": "middle"}},
    "y2": {"field": "hi"}
   }},
  {"data": {"name": "exp"}, "transform": [{"filter": "datum.p == 2"}],
   "mark": {"type": "square", "size": 10, "opacity": 1, "clip": true},
   "encoding": {
    "x": {"field": "E", "type": "quantitative", "scale": {"type": "log", "domain": [0.0031, 200], "nice": false}, "axis": {"orient": "bottom", "values": [0.004,0.005,0.006,0.007,0.008,0.009,0.02,0.03,0.04,0.05,0.06,0.07,0.08,0.09,0.2,0.3,0.4,0.5,0.6,0.7,0.8,0.9,2,3,4,5,6,7,8,9,20,30,40,50,60,70,80,90], "tickSize": -4, "labels": false, "domain": false, "title": null}},
    "y": {"field": "s", "type": "quantitative", "scale": {"type": "log", "domain": [2.5, 37.5], "nice": false}, "axis": {"orient": "left", "values": [3,4,6,7,8,9,30], "tickSize": -4, "labels": false, "domain": false, "title": null}},
    "color": {"datum": "Exp. data", "type": "nominal", "scale": {"domain": ["CC model","Spherical model","Exp. data"], "range": ["#000000","#c8242a","#3ce8f2"]}}
   }},
  {"data": {"name": "curves"}, "transform": [{"filter": "datum.p == 2 && datum.m == 'CC'"}],
   "mark": {"type": "line", "strokeWidth": 1.4, "interpolate": "monotone", "clip": true},
   "encoding": {
    "x": {"field": "E", "type": "quantitative", "scale": {"type": "log", "domain": [0.0031, 200], "nice": false}, "axis": {"orient": "top", "values": [0.01,0.1,1,10,100], "tickSize": -8, "labels": false, "title": null}},
    "y": {"field": "s", "type": "quantitative", "scale": {"type": "log", "domain": [2.5, 37.5], "nice": false}, "axis": null},
    "color": {"datum": "CC model", "type": "nominal", "scale": {"domain": ["CC model","Spherical model","Exp. data"], "range": ["#000000","#c8242a","#3ce8f2"]},
      "legend": {"orient": "none", "legendX": 241.8, "legendY": 30.5, "title": null, "symbolSize": 196, "labelOffset": 2.5, "rowPadding": 0.5, "padding": 0,
        "encode": {"symbols": {"update": {
          "shape": {"signal": "datum.value === 'Exp. data' ? 'square' : 'stroke'"},
          "size": {"signal": "datum.value === 'Exp. data' ? 14 : 289"},
          "strokeDash": {"signal": "datum.value === 'Spherical model' ? [4, 2.5] : [1, 0]"},
          "strokeWidth": {"signal": "datum.value === 'Exp. data' ? 0 : 1.5"},
          "fill": {"signal": "datum.value === 'Exp. data' ? '#3ce8f2' : 'transparent'"},
          "stroke": {"signal": "datum.value === 'CC model' ? '#000000' : datum.value === 'Spherical model' ? '#c8242a' : '#3ce8f2'"},
          "opacity": {"value": 1}}}}}}
   }},
  {"data": {"name": "curves"}, "transform": [{"filter": "datum.p == 2 && datum.m == 'SP'"}],
   "mark": {"type": "line", "strokeWidth": 1.3, "strokeDash": [4, 2.5], "interpolate": "monotone", "clip": true},
   "encoding": {
    "x": {"field": "E", "type": "quantitative", "scale": {"type": "log", "domain": [0.0031, 200], "nice": false}, "axis": {"orient": "top", "values": [0.004,0.005,0.006,0.007,0.008,0.009,0.02,0.03,0.04,0.05,0.06,0.07,0.08,0.09,0.2,0.3,0.4,0.5,0.6,0.7,0.8,0.9,2,3,4,5,6,7,8,9,20,30,40,50,60,70,80,90], "tickSize": -4, "labels": false, "domain": false, "title": null}},
    "y": {"field": "s", "type": "quantitative", "scale": {"type": "log", "domain": [2.5, 37.5], "nice": false}, "axis": null},
    "color": {"datum": "Spherical model", "type": "nominal", "scale": {"domain": ["CC model","Spherical model","Exp. data"], "range": ["#000000","#c8242a","#3ce8f2"]}}
   }},
  {"data": {"name": "labels"}, "transform": [{"filter": "datum.p == 2"}],
   "mark": {"type": "text", "align": "left", "baseline": "middle", "fontSize": 21, "color": "black"},
   "encoding": {
    "text": {"field": "t"},
    "x": {"datum": 0.0074, "type": "quantitative", "scale": {"type": "log", "domain": [0.0031, 200], "nice": false}, "axis": null},
    "y": {"datum": 3.8, "type": "quantitative", "scale": {"type": "log", "domain": [2.5, 37.5], "nice": false}, "axis": null}
   }}
 ]
},
{
 "width": 404, "height": 196,
 "resolve": {"axis": {"x": "independent", "y": "independent"}},
 "layer": [
  {"data": {"name": "exp"}, "transform": [{"filter": "datum.p == 3 && isValid(datum.lo)"}],
   "mark": {"type": "rule", "color": "#3ce8f2", "strokeWidth": 1.3, "clip": true},
   "encoding": {
    "x": {"field": "E", "type": "quantitative", "scale": {"type": "log", "domain": [0.0031, 200], "nice": false}, "axis": {"orient": "bottom", "values": [0.01,0.1,1,10,100], "tickSize": -8, "labels": false, "title": null}},
    "y": {"field": "lo", "type": "quantitative", "scale": {"type": "log", "domain": [2.5, 40], "nice": false}, "axis": {"orient": "left", "values": [5,10,20], "tickSize": -8, "labelPadding": 8, "labelExpr": "format(datum.value, 'd')", "title": "Cross Section (barns)", "titleX": -42.5, "titleBaseline": "middle"}},
    "y2": {"field": "hi"}
   }},
  {"data": {"name": "exp"}, "transform": [{"filter": "datum.p == 3"}],
   "mark": {"type": "square", "size": 10, "opacity": 1, "clip": true},
   "encoding": {
    "x": {"field": "E", "type": "quantitative", "scale": {"type": "log", "domain": [0.0031, 200], "nice": false}, "axis": {"orient": "bottom", "values": [0.004,0.005,0.006,0.007,0.008,0.009,0.02,0.03,0.04,0.05,0.06,0.07,0.08,0.09,0.2,0.3,0.4,0.5,0.6,0.7,0.8,0.9,2,3,4,5,6,7,8,9,20,30,40,50,60,70,80,90], "tickSize": -4, "labels": false, "domain": false, "title": null}},
    "y": {"field": "s", "type": "quantitative", "scale": {"type": "log", "domain": [2.5, 40], "nice": false}, "axis": {"orient": "left", "values": [3,4,6,7,8,9,30], "tickSize": -4, "labels": false, "domain": false, "title": null}},
    "color": {"datum": "Exp. data", "type": "nominal", "scale": {"domain": ["CC model","Spherical model","Exp. data"], "range": ["#000000","#c8242a","#3ce8f2"]}}
   }},
  {"data": {"name": "curves"}, "transform": [{"filter": "datum.p == 3 && datum.m == 'CC'"}],
   "mark": {"type": "line", "strokeWidth": 1.4, "interpolate": "monotone", "clip": true},
   "encoding": {
    "x": {"field": "E", "type": "quantitative", "scale": {"type": "log", "domain": [0.0031, 200], "nice": false}, "axis": {"orient": "top", "values": [0.01,0.1,1,10,100], "tickSize": -8, "labels": false, "title": null}},
    "y": {"field": "s", "type": "quantitative", "scale": {"type": "log", "domain": [2.5, 40], "nice": false}, "axis": null},
    "color": {"datum": "CC model", "type": "nominal", "scale": {"domain": ["CC model","Spherical model","Exp. data"], "range": ["#000000","#c8242a","#3ce8f2"]},
      "legend": {"orient": "none", "legendX": 245.5, "legendY": 32.5, "title": null, "symbolSize": 196, "labelOffset": 2.5, "rowPadding": 0.5, "padding": 0,
        "encode": {"symbols": {"update": {
          "shape": {"signal": "datum.value === 'Exp. data' ? 'square' : 'stroke'"},
          "size": {"signal": "datum.value === 'Exp. data' ? 14 : 289"},
          "strokeDash": {"signal": "datum.value === 'Spherical model' ? [4, 2.5] : [1, 0]"},
          "strokeWidth": {"signal": "datum.value === 'Exp. data' ? 0 : 1.5"},
          "fill": {"signal": "datum.value === 'Exp. data' ? '#3ce8f2' : 'transparent'"},
          "stroke": {"signal": "datum.value === 'CC model' ? '#000000' : datum.value === 'Spherical model' ? '#c8242a' : '#3ce8f2'"},
          "opacity": {"value": 1}}}}}}
   }},
  {"data": {"name": "curves"}, "transform": [{"filter": "datum.p == 3 && datum.m == 'SP'"}],
   "mark": {"type": "line", "strokeWidth": 1.3, "strokeDash": [4, 2.5], "interpolate": "monotone", "clip": true},
   "encoding": {
    "x": {"field": "E", "type": "quantitative", "scale": {"type": "log", "domain": [0.0031, 200], "nice": false}, "axis": {"orient": "top", "values": [0.004,0.005,0.006,0.007,0.008,0.009,0.02,0.03,0.04,0.05,0.06,0.07,0.08,0.09,0.2,0.3,0.4,0.5,0.6,0.7,0.8,0.9,2,3,4,5,6,7,8,9,20,30,40,50,60,70,80,90], "tickSize": -4, "labels": false, "domain": false, "title": null}},
    "y": {"field": "s", "type": "quantitative", "scale": {"type": "log", "domain": [2.5, 40], "nice": false}, "axis": null},
    "color": {"datum": "Spherical model", "type": "nominal", "scale": {"domain": ["CC model","Spherical model","Exp. data"], "range": ["#000000","#c8242a","#3ce8f2"]}}
   }},
  {"data": {"name": "labels"}, "transform": [{"filter": "datum.p == 3"}],
   "mark": {"type": "text", "align": "left", "baseline": "middle", "fontSize": 21, "color": "black"},
   "encoding": {
    "text": {"field": "t"},
    "x": {"datum": 0.0074, "type": "quantitative", "scale": {"type": "log", "domain": [0.0031, 200], "nice": false}, "axis": null},
    "y": {"datum": 3.63, "type": "quantitative", "scale": {"type": "log", "domain": [2.5, 40], "nice": false}, "axis": null}
   }}
 ]
},
{
 "width": 404, "height": 197,
 "resolve": {"axis": {"x": "independent", "y": "independent"}},
 "layer": [
  {"data": {"name": "exp"}, "transform": [{"filter": "datum.p == 4 && isValid(datum.lo)"}],
   "mark": {"type": "rule", "color": "#3ce8f2", "strokeWidth": 1.3, "clip": true},
   "encoding": {
    "x": {"field": "E", "type": "quantitative", "scale": {"type": "log", "domain": [0.0031, 200], "nice": false}, "axis": {"orient": "bottom", "values": [0.01,0.1,1,10,100], "tickSize": -8, "labels": true, "labelPadding": 13, "labelAlign": "right", "labelOffset": 1.5, "labelExpr": "datum.value < 0.05 ? '10⁻²' : datum.value < 0.5 ? '10⁻¹' : datum.value < 5 ? '1' : datum.value < 50 ? '10' : '10²'", "title": "Incident Energy (MeV)", "titlePadding": 6}},
    "y": {"field": "lo", "type": "quantitative", "scale": {"type": "log", "domain": [2, 40], "nice": false}, "axis": {"orient": "left", "values": [2,5,10,20], "tickSize": -8, "labelPadding": 8, "labelExpr": "format(datum.value, 'd')", "title": "Cross Section (barns)", "titleX": -42.5, "titleBaseline": "middle"}},
    "y2": {"field": "hi"}
   }},
  {"data": {"name": "exp"}, "transform": [{"filter": "datum.p == 4"}],
   "mark": {"type": "square", "size": 10, "opacity": 1, "clip": true},
   "encoding": {
    "x": {"field": "E", "type": "quantitative", "scale": {"type": "log", "domain": [0.0031, 200], "nice": false}, "axis": {"orient": "bottom", "values": [0.004,0.005,0.006,0.007,0.008,0.009,0.02,0.03,0.04,0.05,0.06,0.07,0.08,0.09,0.2,0.3,0.4,0.5,0.6,0.7,0.8,0.9,2,3,4,5,6,7,8,9,20,30,40,50,60,70,80,90], "tickSize": -4, "labels": false, "domain": false, "title": null}},
    "y": {"field": "s", "type": "quantitative", "scale": {"type": "log", "domain": [2, 40], "nice": false}, "axis": {"orient": "left", "values": [3,4,6,7,8,9,30], "tickSize": -4, "labels": false, "domain": false, "title": null}},
    "color": {"datum": "Exp. data", "type": "nominal", "scale": {"domain": ["CC model","Spherical model","Exp. data"], "range": ["#000000","#c8242a","#3ce8f2"]}}
   }},
  {"data": {"name": "curves"}, "transform": [{"filter": "datum.p == 4 && datum.m == 'CC'"}],
   "mark": {"type": "line", "strokeWidth": 1.4, "interpolate": "monotone", "clip": true},
   "encoding": {
    "x": {"field": "E", "type": "quantitative", "scale": {"type": "log", "domain": [0.0031, 200], "nice": false}, "axis": {"orient": "top", "values": [0.01,0.1,1,10,100], "tickSize": -8, "labels": false, "title": null}},
    "y": {"field": "s", "type": "quantitative", "scale": {"type": "log", "domain": [2, 40], "nice": false}, "axis": null},
    "color": {"datum": "CC model", "type": "nominal", "scale": {"domain": ["CC model","Spherical model","Exp. data"], "range": ["#000000","#c8242a","#3ce8f2"]},
      "legend": {"orient": "none", "legendX": 237.8, "legendY": 33.5, "title": null, "symbolSize": 196, "labelOffset": 2.5, "rowPadding": 0.5, "padding": 0,
        "encode": {"symbols": {"update": {
          "shape": {"signal": "datum.value === 'Exp. data' ? 'square' : 'stroke'"},
          "size": {"signal": "datum.value === 'Exp. data' ? 14 : 289"},
          "strokeDash": {"signal": "datum.value === 'Spherical model' ? [4, 2.5] : [1, 0]"},
          "strokeWidth": {"signal": "datum.value === 'Exp. data' ? 0 : 1.5"},
          "fill": {"signal": "datum.value === 'Exp. data' ? '#3ce8f2' : 'transparent'"},
          "stroke": {"signal": "datum.value === 'CC model' ? '#000000' : datum.value === 'Spherical model' ? '#c8242a' : '#3ce8f2'"},
          "opacity": {"value": 1}}}}}}
   }},
  {"data": {"name": "curves"}, "transform": [{"filter": "datum.p == 4 && datum.m == 'SP'"}],
   "mark": {"type": "line", "strokeWidth": 1.3, "strokeDash": [4, 2.5], "interpolate": "monotone", "clip": true},
   "encoding": {
    "x": {"field": "E", "type": "quantitative", "scale": {"type": "log", "domain": [0.0031, 200], "nice": false}, "axis": {"orient": "top", "values": [0.004,0.005,0.006,0.007,0.008,0.009,0.02,0.03,0.04,0.05,0.06,0.07,0.08,0.09,0.2,0.3,0.4,0.5,0.6,0.7,0.8,0.9,2,3,4,5,6,7,8,9,20,30,40,50,60,70,80,90], "tickSize": -4, "labels": false, "domain": false, "title": null}},
    "y": {"field": "s", "type": "quantitative", "scale": {"type": "log", "domain": [2, 40], "nice": false}, "axis": null},
    "color": {"datum": "Spherical model", "type": "nominal", "scale": {"domain": ["CC model","Spherical model","Exp. data"], "range": ["#000000","#c8242a","#3ce8f2"]}}
   }},
  {"data": {"name": "labels"}, "transform": [{"filter": "datum.p == 4"}],
   "mark": {"type": "text", "align": "left", "baseline": "middle", "fontSize": 21, "color": "black"},
   "encoding": {
    "text": {"field": "t"},
    "x": {"datum": 0.0057, "type": "quantitative", "scale": {"type": "log", "domain": [0.0031, 200], "nice": false}, "axis": null},
    "y": {"datum": 3.3, "type": "quantitative", "scale": {"type": "log", "domain": [2, 40], "nice": false}, "axis": null}
   }}
 ]
}
],
"spacing": 0,
"bounds": "flush",
"resolve": {"scale": {"x": "independent", "y": "independent", "color": "independent"}, "legend": {"color": "independent"}, "axis": {"x": "independent", "y": "independent"}}
}
